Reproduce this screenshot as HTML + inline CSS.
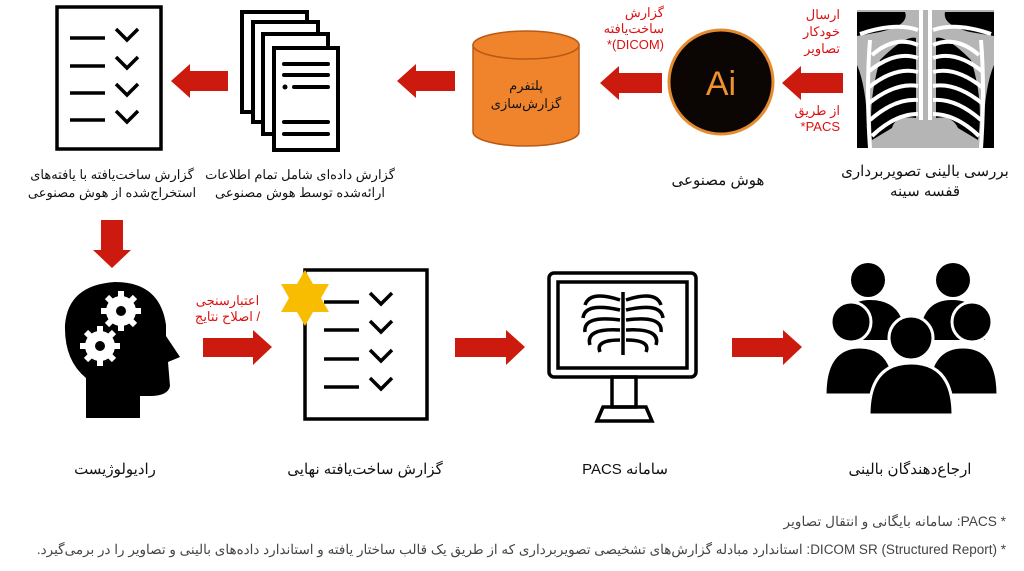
<!DOCTYPE html>
<html><head><meta charset="utf-8">
<style>
html,body{margin:0;padding:0;background:#fff;}
#c{position:relative;width:1024px;height:571px;overflow:hidden;font-family:"Liberation Sans","Noto Sans CJK SC",sans-serif;}
.t{position:absolute;direction:rtl;text-align:center;color:#111;font-size:14px;line-height:18px;white-space:nowrap;}
.r{color:#d11;font-size:13px;line-height:16px;}
.f{position:absolute;direction:rtl;text-align:right;color:#444;white-space:nowrap;right:18px;}
svg{position:absolute;left:0;top:0;}
</style></head><body><div id="c">
<svg width="1024" height="571" viewBox="0 0 1024 571">
<defs>
<g id="chk">
 <line x1="0" y1="0" x2="35" y2="0" stroke="#000" stroke-width="3.5"/>
 <polyline points="46,-9 57,2 68,-9" fill="none" stroke="#000" stroke-width="3.5"/>
</g>
</defs>
<g fill="#cc1a0e">
<polygon points="782,83 801,66 801,73 843,73 843,93 801,93 801,100"/>
<polygon points="600,83 619,66 619,73 662,73 662,93 619,93 619,100"/>
<polygon points="397,81 416,64 416,71 455,71 455,91 416,91 416,98"/>
<polygon points="171,81 190,64 190,71 228,71 228,91 190,91 190,98"/>
<polygon points="101,220 123,220 123,250 131,250 112,268 93,250 101,250"/>
<polygon points="272,347 253,330 253,338 203,338 203,357 253,357 253,365"/>
<polygon points="525,347 506,330 506,338 455,338 455,357 506,357 506,365"/>
<polygon points="802,347 783,330 783,338 732,338 732,357 783,357 783,365"/>
</g>
<rect x="857" y="10" width="137" height="138" fill="#b5b5b5"/>
<path d="M857 12 L905 12 Q910 25 880 32 L857 36Z" fill="#000"/>
<path d="M994 12 L945 12 Q942 25 970 32 L994 36Z" fill="#000"/>
<path d="M857 65 Q868 90 868 148 L857 148Z" fill="#000"/>
<path d="M994 65 Q983 90 983 148 L994 148Z" fill="#000"/>
<path d="M880 60 Q905 35 916 38 L916 118 Q895 115 892 128 L872 140 Q868 100 880 60Z" fill="#000"/>
<path d="M971 60 Q946 35 936 38 L936 118 Q952 115 958 128 L978 140 Q984 100 971 60Z" fill="#000"/>
<g fill="none" stroke="#fff" stroke-width="4">
<line x1="921" y1="10" x2="921" y2="120"/><line x1="930" y1="10" x2="930" y2="120"/>
<path d="M860 34 Q895 22 918 30"/><path d="M991 34 Q956 22 933 30"/>
<path d="M872 55 Q895 35 918 45"/><path d="M979 55 Q956 35 933 45"/>
<path d="M868 72 Q895 50 918 58"/><path d="M983 72 Q956 50 933 58"/>
<path d="M868 88 Q895 66 918 72"/><path d="M983 88 Q956 66 933 72"/>
<path d="M868 104 Q895 82 918 86"/><path d="M983 104 Q956 82 933 86"/>
<path d="M870 120 Q895 98 918 100"/><path d="M981 120 Q956 98 933 100"/>
<path d="M872 136 Q895 114 918 114"/><path d="M979 136 Q956 114 933 114"/>
<path d="M870 40 Q866 90 870 148"/><path d="M981 40 Q985 90 981 148"/>
</g>
<circle cx="721" cy="82" r="52" fill="#0b0604" stroke="#e58a2e" stroke-width="3"/>
<text x="721" y="95" text-anchor="middle" font-family="Liberation Sans" font-size="34" fill="#f0902f">Ai</text>
<path d="M473 45 L473 132 A53 14 0 0 0 579 132 L579 45Z" fill="#f0842c" stroke="#b85a14" stroke-width="1.5"/>
<ellipse cx="526" cy="45" rx="53" ry="14" fill="#f0842c" stroke="#b85a14" stroke-width="1.5"/>
<g fill="#fff" stroke="#000" stroke-width="4">
<rect x="242" y="12" width="65" height="100"/>
<rect x="253" y="22" width="65" height="100"/>
<rect x="263" y="34" width="65" height="100"/>
<rect x="274" y="48" width="64" height="102"/>
</g>
<g stroke="#000" stroke-width="4" stroke-linecap="round">
<line x1="284" y1="64" x2="328" y2="64"/><line x1="284" y1="75" x2="328" y2="75"/>
<line x1="294" y1="87" x2="328" y2="87"/><line x1="284" y1="122" x2="328" y2="122"/><line x1="284" y1="134" x2="328" y2="134"/>
</g>
<circle cx="285" cy="87" r="2.5" fill="#000"/>
<rect x="57" y="7" width="104" height="142" fill="#fff" stroke="#000" stroke-width="3.5"/>
<use href="#chk" x="70" y="38"/><use href="#chk" x="70" y="66"/><use href="#chk" x="70" y="93"/><use href="#chk" x="70" y="120"/>
<path d="M86 418 L86 378 Q64 360 65 325 Q68 285 115 282 Q160 282 166 325 L166 336 L180 357 L168 362 L170 386 Q168 396 150 396 L140 396 L140 418Z" fill="#000"/>
<g fill="#fff">
<circle cx="121" cy="311" r="15"/><circle cx="100" cy="346" r="15"/>
</g>
<g stroke="#fff" stroke-width="6">
<line x1="121" y1="291" x2="121" y2="331"/><line x1="101" y1="311" x2="141" y2="311"/><line x1="107" y1="297" x2="135" y2="325"/><line x1="135" y1="297" x2="107" y2="325"/>
<line x1="100" y1="326" x2="100" y2="366"/><line x1="80" y1="346" x2="120" y2="346"/><line x1="86" y1="332" x2="114" y2="360"/><line x1="114" y1="332" x2="86" y2="360"/>
</g>
<circle cx="121" cy="311" r="5" fill="#000"/><circle cx="100" cy="346" r="5" fill="#000"/>
<rect x="305" y="270" width="122" height="149" fill="#fff" stroke="#000" stroke-width="3.5"/>
<use href="#chk" x="324" y="302"/><use href="#chk" x="324" y="330"/><use href="#chk" x="324" y="359"/><use href="#chk" x="324" y="387"/>
<polygon points="305,270 313,284 329,284 321,298 329,312 313,312 305,326 297,312 281,312 289,298 281,284 297,284" fill="#f8bd00"/>
<g fill="none" stroke="#000" stroke-width="3.5">
<rect x="549" y="273" width="147" height="104" rx="5"/>
<rect x="558" y="282" width="129" height="86"/>
<rect x="612" y="377" width="24" height="30"/>
<path d="M597 421 L603 407 L646 407 L652 421Z"/>
<line x1="623" y1="292" x2="623" y2="355"/>
<path d="M620 300 Q590 290 585 305 M620 310 Q585 302 583 318 M620 320 Q583 315 585 332 M620 330 Q585 328 590 345 M620 340 Q595 340 600 352"/>
<path d="M626 300 Q656 290 661 305 M626 310 Q661 302 663 318 M626 320 Q663 315 661 332 M626 330 Q661 328 656 345 M626 340 Q651 340 646 352"/>
</g>
<g fill="#000">
<circle cx="868" cy="280" r="17"/><circle cx="953" cy="280" r="17"/>
<path d="M840 340 Q840 300 870 300 Q905 300 905 340Z"/><path d="M920 340 Q920 300 952 300 Q985 300 985 340Z"/>
<circle cx="851" cy="322" r="20" stroke="#fff" stroke-width="3"/><circle cx="972" cy="322" r="20" stroke="#fff" stroke-width="3"/>
<path d="M825 395 Q825 347 860 347 Q895 347 895 395Z" stroke="#fff" stroke-width="3"/>
<path d="M928 395 Q928 347 963 347 Q998 347 998 395Z" stroke="#fff" stroke-width="3"/>
<circle cx="911" cy="338" r="22" stroke="#fff" stroke-width="3"/>
<path d="M869 415 Q869 363 911 363 Q953 363 953 415Z" stroke="#fff" stroke-width="3"/>
</g>
</svg>
<div class="t" style="left:825px;width:200px;top:162px;font-size:15px;line-height:20px;">بررسی بالینی تصویربرداری<br>قفسه سینه</div>
<div class="t" style="left:658px;width:120px;top:172px;font-size:15px;">هوش مصنوعی</div>
<div class="t r" style="left:760px;width:80px;top:6px;text-align:right;line-height:17px;">ارسال<br>خودکار<br>تصاویر</div>
<div class="t r" style="left:760px;width:80px;top:103px;text-align:right;">از طریق<br>PACS*</div>
<div class="t r" style="left:580px;width:84px;top:5px;text-align:right;line-height:16px;">گزارش<br>ساخت‌یافته<br>(DICOM)*</div>
<div class="t" style="left:476px;width:100px;top:77px;font-size:13px;">پلتفرم<br>گزارش‌سازی</div>
<div class="t" style="left:205px;width:190px;top:166px;font-size:13px;">گزارش داده‌ای شامل تمام اطلاعات<br>ارائه‌شده توسط هوش مصنوعی</div>
<div class="t" style="left:12px;width:200px;top:166px;font-size:13px;">گزارش ساخت‌یافته با یافته‌های<br>استخراج‌شده از هوش مصنوعی</div>
<div class="t r" style="left:185px;width:85px;top:293px;">اعتبارسنجی<br>/ اصلاح نتایج</div>
<div class="t" style="left:60px;width:110px;top:461px;font-size:15px;">رادیولوژیست</div>
<div class="t" style="left:280px;width:170px;top:461px;font-size:15px;">گزارش ساخت‌یافته نهایی</div>
<div class="t" style="left:560px;width:130px;top:461px;font-size:15px;">سامانه PACS</div>
<div class="t" style="left:820px;width:180px;top:461px;font-size:15px;">ارجاع‌دهندگان بالینی</div>
<div class="f" style="top:514px;font-size:13.7px;">* PACS: سامانه بایگانی و انتقال تصاویر</div>
<div class="f" style="top:542px;font-size:13.5px;">* DICOM SR (Structured Report): استاندارد مبادله گزارش‌های تشخیصی تصویربرداری که از طریق یک قالب ساختار یافته و استاندارد داده‌های بالینی و تصاویر را در برمی‌گیرد.</div>
</div></body></html>
